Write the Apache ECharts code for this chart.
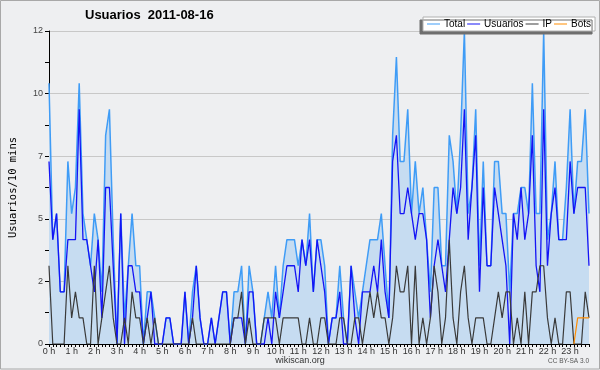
<!DOCTYPE html>
<html><head><meta charset="utf-8">
<script src="https://cdn.jsdelivr.net/npm/echarts@6/dist/echarts.min.js"></script>
<style>html,body{margin:0;padding:0;background:#eeeff1}#c{width:600px;height:370px}</style>
</head><body><div id="c"></div>
<script>
const hourLabels = ['0 h','1 h','2 h','3 h','4 h','5 h','6 h','7 h','8 h','9 h','10 h','11 h','12 h','13 h','14 h','15 h','16 h','17 h','18 h','19 h','20 h','21 h','22 h','23 h'];
const yTicks = [0, 2.4, 4.8, 7.2, 9.6, 12];
const usuarios = [
 7,4,5,2,2,4,4,4,9,4,4,3,2,4,1,6,6,3,0,5,0,3,3,2,2,0,1,2,0,
 0,0,1,1,0,0,0,2,0,1,3,1,0,0,1,0,1,2,2,0,1,1,1,0,2,2,0,0,0,
 1,0,2,1,2,3,3,3,2,4,3,4,2,4,3,2,0,1,1,2,0,0,3,1,0,2,2,2,
 3,2,4,2,1,7,8,5,5,6,5,4,5,5,4,1,3,4,3,2,4,6,5,6,9,4,6,8,2,
 6,3,3,6,5,4,3,0,5,4,6,4,5,8,3,2,9,3,5,6,4,4,4,7,5,6,6,6,3];
const ip = [
 3,0,0,0,0,3,1,2,1,1,0,0,3,0,1,2,3,1,0,0,1,0,2,1,1,0,1,0,1,
 0,0,0,0,0,0,0,0,0,1,0,0,0,0,0,0,0,0,0,0,1,1,2,0,1,0,0,0,1,
 1,1,1,0,1,1,1,1,1,0,0,1,0,0,1,1,0,0,0,1,1,0,0,1,1,0,1,2,
 1,2,1,1,0,1,3,2,2,3,0,3,0,1,0,1,3,2,0,1,4,1,0,2,3,1,0,1,1,
 1,0,0,1,2,1,2,2,0,1,0,2,0,2,2,3,3,1,0,1,0,0,2,2,0,0,0,2,1];
const total = [
 10,4,5,2,2,7,5,6,10,5,4,3,5,4,2,8,9,4,0,5,1,3,5,3,3,0,2,2,1,
 0,0,1,1,0,0,0,2,0,2,3,1,0,0,1,0,1,2,2,0,2,2,3,0,3,2,0,0,1,
 2,1,3,1,3,4,4,4,3,4,3,5,2,4,4,3,0,1,1,3,1,0,3,2,1,2,3,4,
 4,4,5,3,1,8,11,7,7,9,5,7,5,6,4,2,6,6,3,3,8,7,5,8,12,5,6,9,3,
 7,3,3,7,7,5,5,2,5,5,6,6,5,10,5,5,12,4,5,7,4,4,6,9,5,7,7,9,5];
const bots = [
 null,null,null,null,null,null,null,null,null,null,null,null,null,null,null,null,null,null,null,null,null,null,null,null,null,null,null,null,null,
 null,null,null,null,null,null,null,null,null,null,null,null,null,null,null,null,null,null,null,null,null,null,null,null,null,null,null,null,null,
 null,null,null,null,null,null,null,null,null,null,null,null,null,null,null,null,null,null,null,null,null,null,null,null,null,null,null,null,
 null,null,null,null,null,null,null,null,null,null,null,null,null,null,null,null,null,null,null,null,null,null,null,null,null,null,null,null,null,
 null,null,null,null,null,null,null,null,null,null,null,null,null,null,null,null,null,null,null,null,null,null,null,null,0,1,1,1,1];

const cats = [];
hourLabels.forEach((h, hi) => { for (let m = 0; m < 6; m++) cats.push(hi + ':' + m + '0'); });

const FONT = 'Liberation Sans';
const chart = echarts.init(document.getElementById('c'), null, {renderer: 'canvas'});
chart.setOption({
  animation: false,
  backgroundColor: '#eeeff1',
  title: {
    text: 'Usuarios  2011-08-16', left: 85, top: 9, padding: 0,
    textStyle: {fontFamily: FONT, fontSize: 13, fontWeight: 'bold', color: '#000'}
  },
  legend: {
    left: 423, top: 17, padding: [2, 4], itemGap: 2, itemWidth: 13, itemHeight: 1,
    icon: 'rect', backgroundColor: '#ffffff', borderColor: '#b0b0b0', borderWidth: 1,
    shadowColor: '#6e6e6e', shadowBlur: 0.1, shadowOffsetX: -3, shadowOffsetY: 3,
    textStyle: {fontFamily: FONT, fontSize: 10, color: '#000', padding: [0, 0, 0, -1]},
    data: ['Total', 'Usuarios', 'IP', 'Bots']
  },
  grid: {left: 47, right: 11, top: 31, bottom: 26},
  xAxis: {
    type: 'category', data: cats, boundaryGap: false,
    axisLine: {lineStyle: {color: '#000', width: 1}},
    axisTick: {interval: 0, length: 3, lineStyle: {color: '#000'}},
    axisLabel: {
      interval: 5, margin: 3, fontFamily: FONT, fontSize: 9, color: '#333',
      formatter: (v, idx) => hourLabels[Math.floor(idx / 6)]
    },
    splitLine: {show: false}
  },
  yAxis: {
    type: 'value', min: yTicks[0], max: yTicks[yTicks.length - 1], interval: 2.4,
    name: 'Usuarios/10 mins', nameLocation: 'middle', nameGap: 30, nameRotate: 90,
    nameTextStyle: {fontFamily: 'DejaVu Sans Mono', fontSize: 10.5, color: '#000'},
    axisLine: {show: true, lineStyle: {color: '#000', width: 1}},
    axisTick: {show: true, length: 4, lineStyle: {color: '#000'}},
    minorTick: {show: true, splitNumber: 2, length: 4, lineStyle: {color: '#000'}},
    axisLabel: {margin: 6, fontFamily: FONT, fontSize: 9, color: '#444',
      formatter: v => String(Math.round(v))},
    splitLine: {show: true, lineStyle: {color: '#c8c8c8', width: 1}}
  },
  graphic: [
    {type: 'rect', shape: {x: 0.5, y: 0.5, width: 599, height: 368.5}, style: {fill: 'none', stroke: '#a8a8a8', lineWidth: 1}, silent: true},
    {type: 'text', left: 'center', top: 356, style: {text: 'wikiscan.org', font: '9px "Liberation Sans"', fill: '#333'}},
    {type: 'text', right: 11, top: 358, style: {text: 'CC BY-SA 3.0', font: '6.5px "Liberation Sans"', fill: '#555'}}
  ],
  series: [
    {name: 'Total', type: 'line', data: total, showSymbol: false, symbol: 'none',
      itemStyle: {color: '#3f9cf6'}, lineStyle: {color: '#3f9cf6', width: 1.5},
      areaStyle: {color: '#c6dcf1', opacity: 1}, z: 2},
    {name: 'Usuarios', type: 'line', data: usuarios, showSymbol: false, symbol: 'none',
      itemStyle: {color: '#1414f5'}, lineStyle: {color: '#1414f5', width: 1.3}, z: 3},
    {name: 'IP', type: 'line', data: ip, showSymbol: false, symbol: 'none',
      itemStyle: {color: '#3a3a3a'}, lineStyle: {color: '#3a3a3a', width: 1.2}, z: 4},
    {name: 'Bots', type: 'line', data: bots, showSymbol: false, symbol: 'none', connectNulls: false,
      itemStyle: {color: '#ff8c00'}, lineStyle: {color: '#ff8c00', width: 1.2}, z: 5}
  ]
});
</script></body></html>
